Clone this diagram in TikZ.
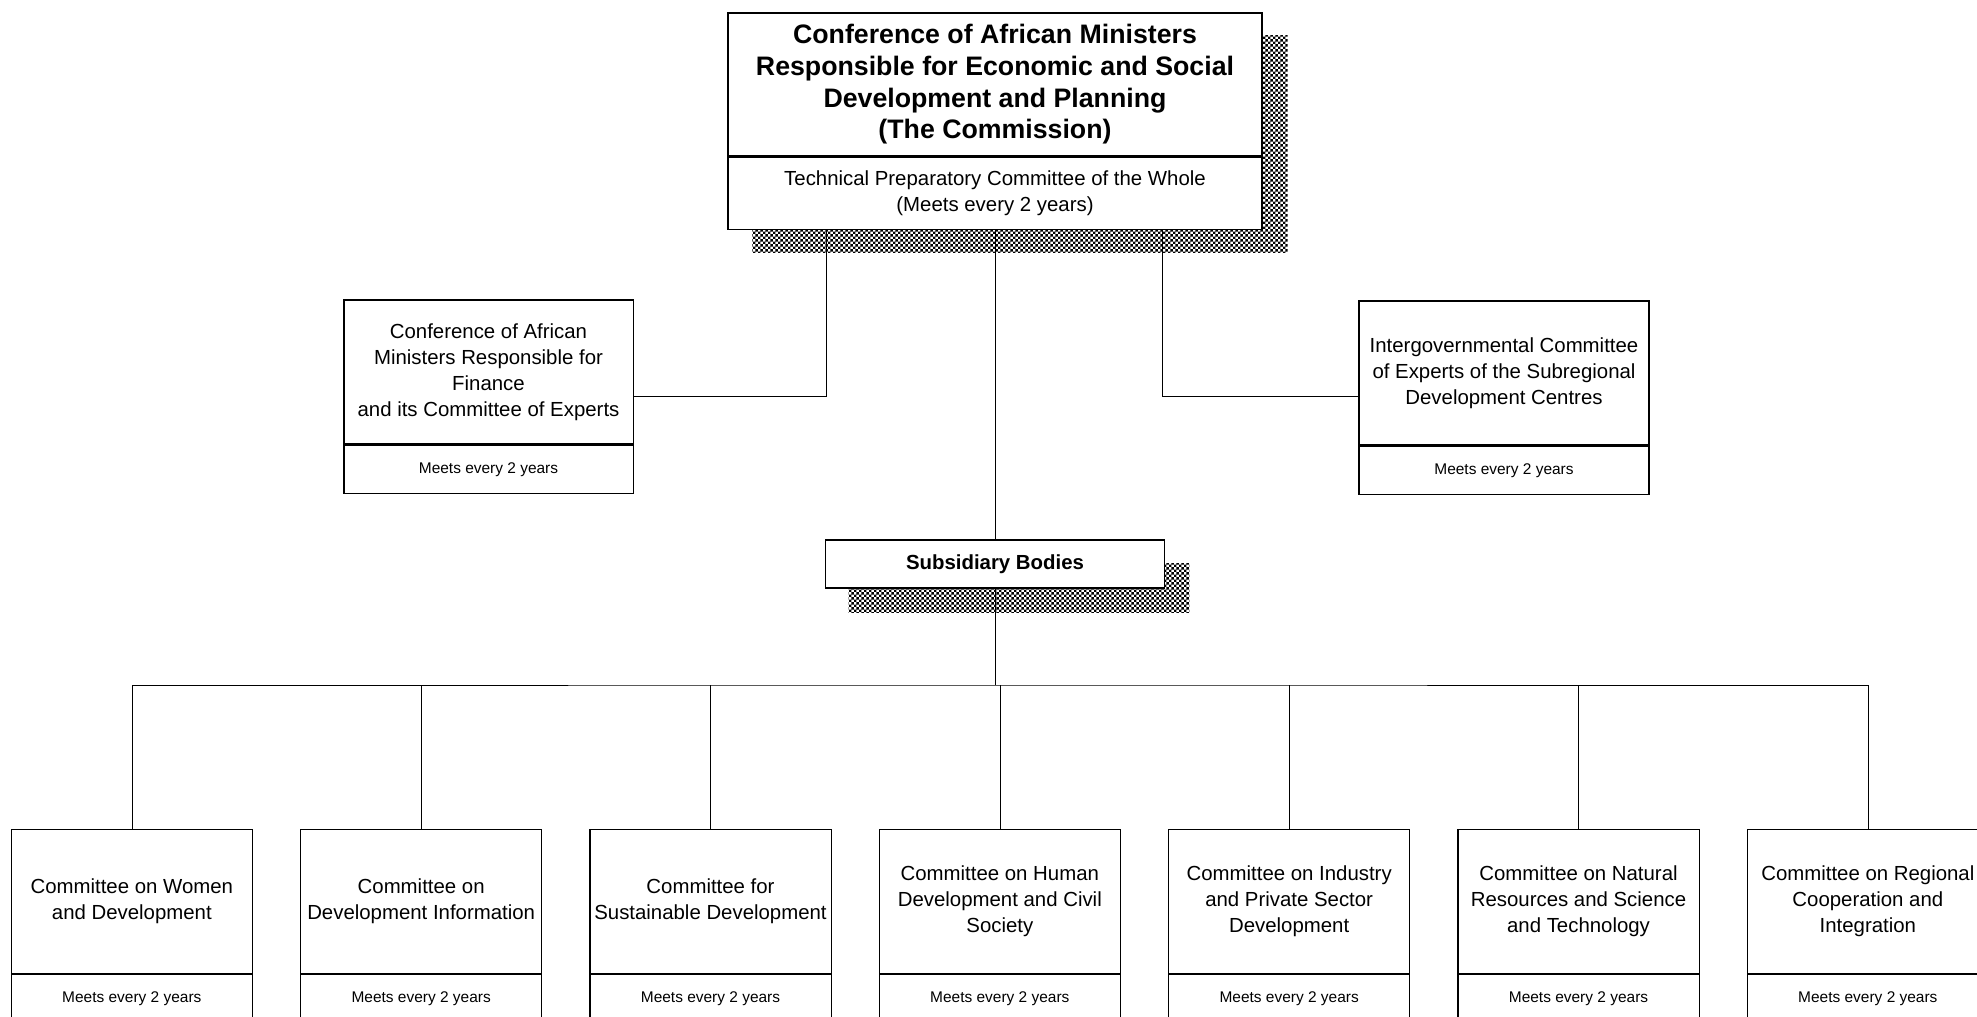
\documentclass[tikz,border=0pt]{standalone}
\usepackage{fontspec}
\setmainfont{Liberation Sans}
\usetikzlibrary{matrix,backgrounds,patterns,positioning}

\pgfdeclarepatternformonly{finechecker}{\pgfpointorigin}{\pgfqpoint{3.8pt}{3.8pt}}{\pgfqpoint{3.8pt}{3.8pt}}{%
    \pgfpathrectangle{\pgfpointorigin}{\pgfqpoint{1.95pt}{1.95pt}}%
    \pgfpathrectangle{\pgfqpoint{1.9pt}{1.9pt}}{\pgfqpoint{1.95pt}{1.95pt}}%
    \pgfusepath{fill}}

\begin{document}
\begin{tikzpicture}[x=0.025cm, y=-0.025cm, line width=0.8pt,
        box/.style={draw, fill=white, align=center, inner sep=2pt, line width=0.9pt},
        bigtext/.style={font=\fontsize{14.5}{18.5}\selectfont},
        smalltext/.style={font=\fontsize{11}{13}\selectfont},
        shade/.style={pattern=finechecker, pattern color=black}]
            \useasboundingbox (0,0) rectangle (1977,1017);
            \clip (0,0) rectangle (1977,1017);

            \node [box, minimum width=13.35cm, minimum height=3.575cm, font=\fontsize{19}{22.5}\selectfont\bfseries] (commission) at (995,84.5) {Conference of African Ministers\\Responsible for Economic and Social\\Development and Planning\\(The Commission)};
            \node [box, bigtext, minimum width=13.35cm, minimum height=1.8cm, below=0pt of commission] (tpc) {Technical Preparatory Committee of the Whole\\(Meets every 2 years)};

            \node [box, bigtext, minimum width=7.23cm, minimum height=3.6cm] (finance) at (488.5,372) {Conference of African\\Ministers Responsible for\\Finance\\and its Committee of Experts};
            \node [box, smalltext, minimum width=7.23cm, minimum height=1.2cm, below=0pt of finance] (finance-m) {Meets every 2 years};

            \node [box, bigtext, minimum width=7.25cm, minimum height=3.6cm] (igce) at (1504,373) {Intergovernmental Committee\\of Experts of the Subregional\\Development Centres};
            \node [box, smalltext, minimum width=7.25cm, minimum height=1.2cm, below=0pt of igce] (igce-m) {Meets every 2 years};

            \node [box, minimum width=8.48cm, minimum height=1.2cm, font=\fontsize{14.5}{18.5}\selectfont\bfseries] (subsidiary) at (995,564) {Subsidiary Bodies};

            \matrix (committees) [anchor=north west, inner sep=0pt, column sep=1.17cm, row sep=0pt,
                row 1/.style={nodes={box, bigtext, minimum width=6.03cm, minimum height=3.6cm}},
                row 2/.style={nodes={box, smalltext, minimum width=6.03cm, minimum height=1.2cm}}] at (10,828)
            {
             \node (women) {Committee on Women\\and Development}; & \node (devinfo) {Committee on\\Development Information}; & \node (sustain) {Committee for\\Sustainable Development}; & \node (human) {Committee on Human\\Development and Civil\\Society}; & \node (industry) {Committee on Industry\\and Private Sector\\Development}; & \node (natural) {Committee on Natural\\Resources and Science\\and Technology}; & \node (regional) {Committee on Regional\\Cooperation and\\Integration}; \\
             \node (women-m) {Meets every 2 years}; & \node (devinfo-m) {Meets every 2 years}; & \node (sustain-m) {Meets every 2 years}; & \node (human-m) {Meets every 2 years}; & \node (industry-m) {Meets every 2 years}; & \node (natural-m) {Meets every 2 years}; & \node (regional-m) {Meets every 2 years}; \\
            };

            \coordinate (lbend) at (826,396);
            \coordinate (rbend) at (1162,396);
            \coordinate (bus) at (995,685);

            \begin{scope}[on background layer]
                \draw (tpc.south -| lbend) -- (lbend) -- (finance.east |- lbend);
                \draw (tpc.south -| rbend) -- (rbend) -- (igce.west |- rbend);
                \draw (tpc.south) -- (subsidiary.north);
                \draw (subsidiary.south) -- (bus);
                \draw (women.north) |- (bus) -| (regional.north);
                \draw (devinfo.north) -- (devinfo.north |- bus) (sustain.north) -- (sustain.north |- bus) (human.north) -- (human.north |- bus) (industry.north) -- (industry.north |- bus) (natural.north) -- (natural.north |- bus);
                % checkered shadows
                \fill [shade] ([shift={(25,23)}]commission.north west) rectangle ([shift={(25,23)}]tpc.south east);
                \fill [shade] ([shift={(24,24)}]subsidiary.north west) rectangle ([shift={(24,24)}]subsidiary.south east);
            \end{scope}
    \end{tikzpicture}
\end{document}
